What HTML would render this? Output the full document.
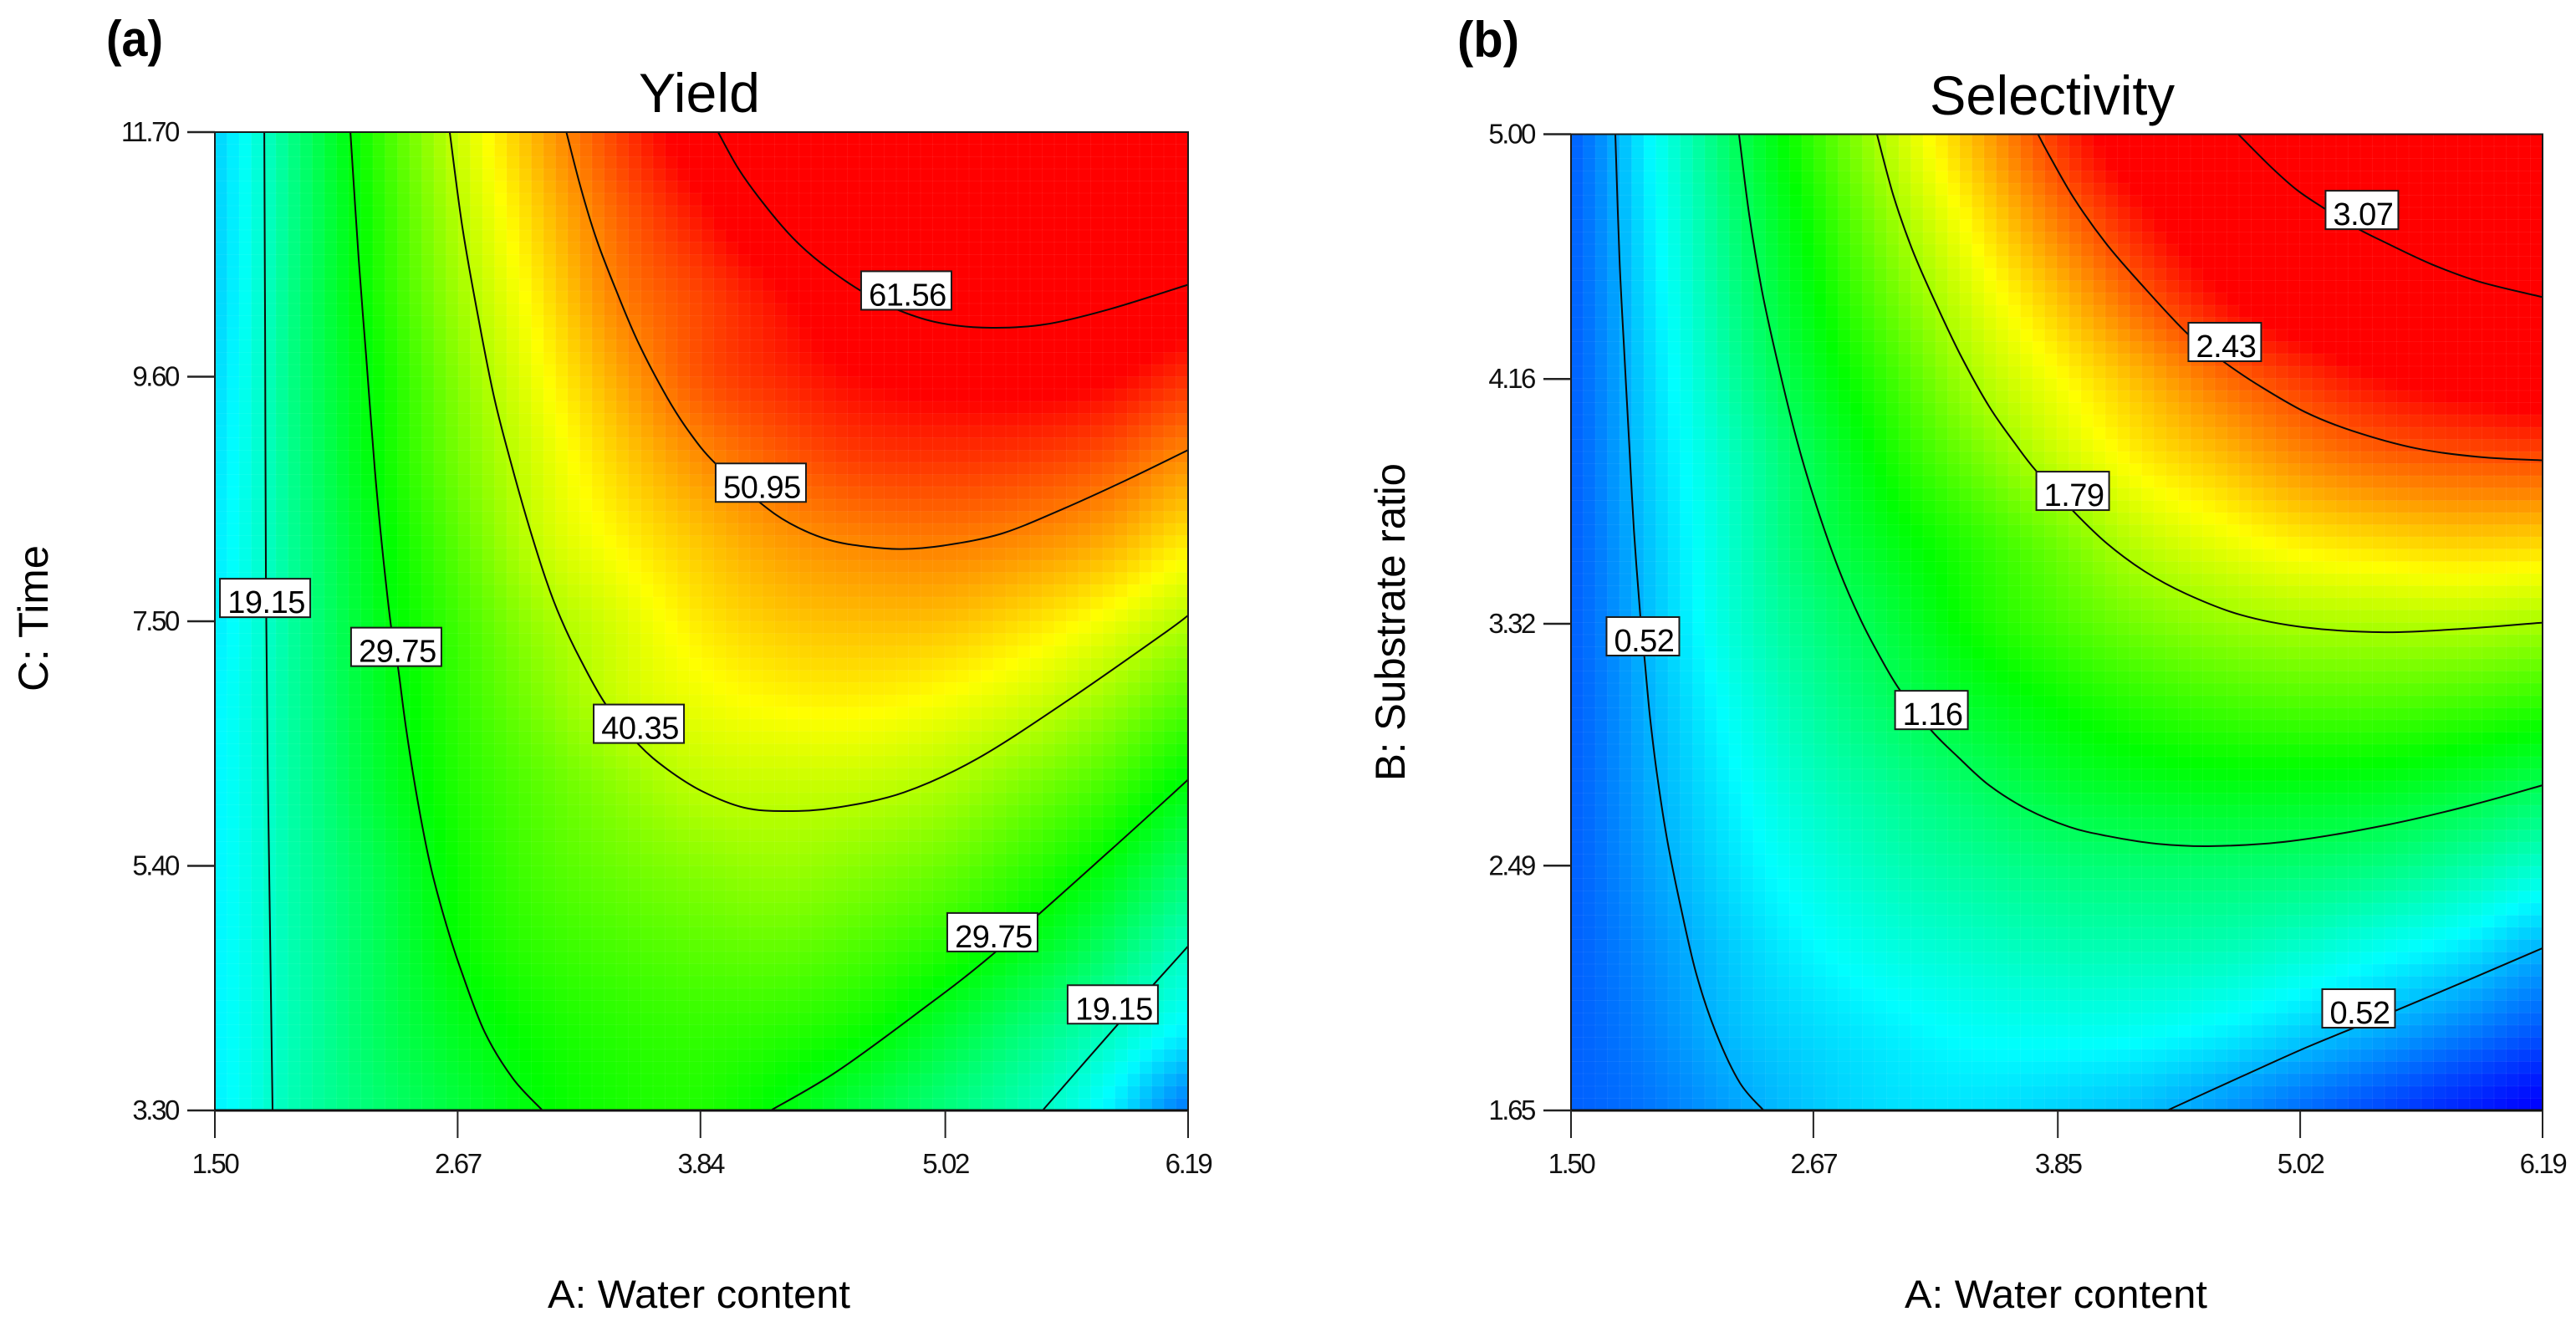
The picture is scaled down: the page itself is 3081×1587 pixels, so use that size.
<!DOCTYPE html>
<html lang="en">
<head>
<meta charset="utf-8">
<title>Yield and Selectivity contour plots</title>
<style>
html,body{margin:0;padding:0;background:#fff;}
body{width:3081px;height:1587px;overflow:hidden;}
svg{display:block;font-family:"Liberation Sans",Arial,sans-serif;}
</style>
</head>
<body>
<svg id="figure" xmlns="http://www.w3.org/2000/svg" width="3081" height="1587" viewBox="0 0 3081 1587">
  <rect width="3081" height="1587" fill="#fff"/>
  <text x="127" y="67" font-size="60" font-weight="bold" textLength="68" lengthAdjust="spacingAndGlyphs">(a)</text>
  <text x="1743" y="68" font-size="60" font-weight="bold" textLength="74" lengthAdjust="spacingAndGlyphs">(b)</text>
  <text x="764" y="134" font-size="66" textLength="145" lengthAdjust="spacingAndGlyphs">Yield</text>
  <text x="2308" y="137" font-size="66" textLength="293" lengthAdjust="spacingAndGlyphs">Selectivity</text>
  <text x="655" y="1564" font-size="47" textLength="362" lengthAdjust="spacingAndGlyphs">A: Water content</text>
  <text x="2278" y="1564" font-size="47" textLength="362" lengthAdjust="spacingAndGlyphs">A: Water content</text>
  <text transform="translate(57 827) rotate(-90)" font-size="50" textLength="175" lengthAdjust="spacingAndGlyphs">C: Time</text>
  <text transform="translate(1680 934) rotate(-90)" font-size="50" textLength="380" lengthAdjust="spacingAndGlyphs">B: Substrate ratio</text>
  <g id="panel-a"></g>
  <g id="panel-b"></g>
</svg>
<script>
/* ---------- Shared axis data ---------- */
const waterGrid = [1.5,1.891,2.282,2.673,3.063,3.454,3.845,4.236,4.627,5.018,5.408,5.799,6.19];

/* ---------- Panel (a) Yield ---------- */
const yieldXTicks = [1.50,2.67,3.84,5.02,6.19];
const yieldXTickLabels = ["1.50","2.67","3.84","5.02","6.19"];
const yieldYTicks = [3.30,5.40,7.50,9.60,11.70];
const yieldYTickLabels = ["3.30","5.40","7.50","9.60","11.70"];
const yieldTimeGrid = [11.7,11.0,10.3,9.6,8.9,8.2,7.5,6.8,6.1,5.4,4.7,4.0,3.3];
const yieldSurface = [
 [13,23,32.6,41.2,48.5,54.7,60.3,65,68,70,71,71,70],
 [13,22.8,31.8,40,46.8,52.7,57.2,61.8,64,65.5,66,66,65],
 [13,23,31.4,38.8,45.1,51.1,54.4,57.8,61.1,62.8,63.3,62.6,60.5],
 [13.5,23,30.3,37.4,43.5,48.9,53.5,56,58,59,59.2,58.3,55.6],
 [14,22.5,30,36.4,42,46.6,50.3,53,54.8,55.2,54.8,53.3,50.3],
 [14.5,22,29,35,41,44.5,47.3,49.6,50.8,51.2,50.4,48.6,45.3],
 [14.5,21.5,28.4,33.5,38.6,42.1,45.2,47,47.6,47.4,45.8,43.3,40],
 [15,21.4,27.7,32.6,36.9,41,43.1,44.3,44.5,43.5,41.6,38.5,34.7],
 [15,21,27,31.7,35,38,40.5,41,40.8,39.5,36.9,33.8,29.5],
 [15,20.6,25.6,30.7,34,36,37.5,38.4,37.4,35.8,32.9,29.2,24.3],
 [15,20.2,25,30,32.6,34,35,35.4,34.1,31.9,28.6,24.3,19.2],
 [15,19.9,24.6,28.3,30.8,32.2,32.8,32.2,30.5,27,23.2,19.4,15],
 [14.8,20,23.6,26.7,29.7,31.2,31.6,29.3,26.1,23,19.8,15,8]
];
const yieldColorLevels = [1,15.5,30,44,58];

const yieldC19LeftA = [1.738,1.742,1.746,1.754,1.762,1.778];
const yieldC19LeftC = [11.70,9.96,7.81,6.37,5.34,3.30];
const yieldC29LeftA = [2.153,2.193,2.229,2.27,2.306,2.35,2.382,2.423,2.477,2.539,2.616,2.693,2.801,2.938,3.079];
const yieldC29LeftC = [11.70,10.61,9.78,8.82,8.14,7.44,7.11,6.56,5.96,5.40,4.89,4.47,3.97,3.57,3.30];
const yieldC40A = [2.632,2.693,2.769,2.846,2.924,3.003,3.095,3.168,3.265,3.386,3.543,3.68,3.849,4.05,4.252,4.494,4.82,5.174,5.61,6.077,6.19];
const yieldC40C = [11.70,10.88,10.11,9.42,8.88,8.38,7.86,7.52,7.16,6.78,6.44,6.23,6.04,5.90,5.87,5.90,6.03,6.32,6.82,7.40,7.55];
const yieldC50A = [3.194,3.265,3.341,3.434,3.541,3.68,3.788,3.909,4.119,4.272,4.457,4.643,4.812,5.011,5.287,5.581,5.89,6.19];
const yieldC50C = [11.70,11.21,10.77,10.34,9.89,9.42,9.12,8.86,8.53,8.34,8.20,8.14,8.12,8.15,8.25,8.46,8.71,8.97];
const yieldC61A = [3.925,4.025,4.147,4.286,4.425,4.61,4.796,4.997,5.243,5.505,5.813,6.19];
const yieldC61C = [11.70,11.38,11.08,10.79,10.57,10.34,10.17,10.06,10.02,10.05,10.18,10.39];
const yieldC29RightA = [4.179,4.494,4.896,5.255,5.807,6.19];
const yieldC29RightC = [3.30,3.63,4.15,4.65,5.52,6.14];
const yieldC19RightA = [5.489,5.847,6.19];
const yieldC19RightC = [3.30,4.03,4.71];

const yieldLabelText = ["61.56","50.95","19.15","29.75","40.35","29.75","19.15"];
const yieldLabelA = [4.832,4.131,1.742,2.374,3.543,5.247,5.827];
const yieldLabelC = [10.34,8.69,7.70,7.28,6.62,4.83,4.21];

/* ---------- Panel (b) Selectivity ---------- */
const selectivityXTicks = [1.50,2.67,3.85,5.02,6.19];
const selectivityXTickLabels = ["1.50","2.67","3.85","5.02","6.19"];
const selectivityYTicks = [1.65,2.49,3.32,4.16,5.00];
const selectivityYTickLabels = ["1.65","2.49","3.32","4.16","5.00"];
const selectivityRatioGrid = [5,4.72,4.44,4.16,3.88,3.60,3.325,3.05,2.77,2.49,2.21,1.93,1.65];
const selectivitySurface = [
 [.30,.71,1.13,1.50,1.86,2.18,2.49,2.75,3.01,3.25,3.42,3.55,3.65],
 [.30,.68,1.07,1.42,1.76,2.05,2.33,2.57,2.78,2.97,3.16,3.32,3.42],
 [.30,.65,1.02,1.35,1.65,1.92,2.15,2.39,2.60,2.77,2.90,3.00,3.07],
 [.30,.62,.96,1.27,1.53,1.80,1.99,2.17,2.35,2.49,2.61,2.69,2.75],
 [.30,.60,.88,1.17,1.43,1.65,1.86,2.03,2.15,2.28,2.37,2.41,2.43],
 [.30,.57,.85,1.13,1.32,1.48,1.65,1.84,1.95,2.04,2.09,2.12,2.11],
 [.30,.55,.82,1.04,1.22,1.41,1.54,1.66,1.74,1.79,1.81,1.82,1.79],
 [.30,.52,.75,.96,1.13,1.27,1.38,1.47,1.53,1.56,1.56,1.53,1.48],
 [.30,.50,.69,.87,1.00,1.12,1.23,1.29,1.32,1.32,1.30,1.24,1.16],
 [.30,.47,.64,.78,.90,.98,1.05,1.08,1.09,1.08,1.04,.95,.84],
 [.30,.43,.58,.70,.79,.85,.90,.91,.90,.84,.75,.66,.52],
 [.30,.40,.54,.62,.68,.73,.75,.74,.69,.60,.50,.39,.28],
 [.30,.36,.47,.57,.63,.64,.60,.55,.45,.34,.24,.14,.05]
];
const selectivityColorLevels = [0.05,0.71,1.37,2.0,2.62];

const selectivityC052LeftA = [1.714,1.734,1.758,1.783,1.804,1.835,1.854,1.882,1.92,1.967,2.029,2.105,2.198,2.315,2.43];
const selectivityC052LeftB = [5.00,4.571,4.241,3.911,3.638,3.343,3.208,2.996,2.778,2.568,2.35,2.118,1.92,1.745,1.65];
const selectivityC116A = [2.311,2.36,2.422,2.5,2.592,2.685,2.793,2.896,2.993,3.09,3.238,3.365,3.518,3.704,3.906,4.087,4.329,4.596,4.971,5.447,5.843,6.19];
const selectivityC116B = [5.00,4.724,4.462,4.209,3.945,3.724,3.506,3.337,3.205,3.09,2.955,2.865,2.766,2.683,2.623,2.592,2.565,2.557,2.574,2.631,2.697,2.766];
const selectivityC179A = [2.977,3.056,3.148,3.256,3.381,3.518,3.643,3.746,3.92,4.083,4.269,4.469,4.731,5.04,5.427,5.812,6.19];
const selectivityC179B = [5.00,4.79,4.603,4.427,4.241,4.066,3.939,3.844,3.71,3.598,3.5,3.423,3.351,3.308,3.291,3.303,3.324];
const selectivityC243A = [3.754,3.805,3.928,4.083,4.269,4.481,4.647,4.809,5.04,5.272,5.58,5.89,6.19];
const selectivityC243B = [5.00,4.932,4.78,4.625,4.472,4.312,4.221,4.143,4.048,3.982,3.922,3.892,3.881];
const selectivityC307A = [4.721,4.886,5.009,5.142,5.295,5.426,5.657,5.889,6.19];
const selectivityC307B = [5.00,4.883,4.806,4.743,4.677,4.63,4.553,4.493,4.441];
const selectivityC052RightA = [4.378,4.733,5.056,5.419,5.823,6.19];
const selectivityC052RightB = [1.65,1.765,1.868,1.974,2.095,2.207];

const selectivityLabelText = ["3.07","2.43","1.79","0.52","1.16","0.52"];
const selectivityLabelA = [5.318,4.656,3.922,1.847,3.24,5.302];
const selectivityLabelB = [4.74,4.287,3.776,3.277,3.024,2.0];

/* ---------- Rendering ---------- */
const SVG_NS = "http://www.w3.org/2000/svg";
const colorStops = [[0,0,255],[0,255,255],[0,255,0],[255,255,0],[255,0,0]];

function makeEl(tag, attrs, parent){
  const e = document.createElementNS(SVG_NS, tag);
  for (const k in attrs) e.setAttribute(k, attrs[k]);
  parent.appendChild(e);
  return e;
}
function surfaceColor(v, levels){
  if (v <= levels[0]) return "rgb(0,0,255)";
  for (let i = 0; i < levels.length - 1; i++){
    if (v <= levels[i+1]){
      const t = (v - levels[i]) / (levels[i+1] - levels[i]);
      const a = colorStops[i], b = colorStops[i+1];
      return "rgb(" + Math.round(a[0]+(b[0]-a[0])*t) + "," + Math.round(a[1]+(b[1]-a[1])*t) + "," + Math.round(a[2]+(b[2]-a[2])*t) + ")";
    }
  }
  return "rgb(255,0,0)";
}
function cubic(p0,p1,p2,p3,t){
  return p1 + 0.5*t*(p2-p0 + t*(2*p0-5*p1+4*p2-p3 + t*(3*(p1-p2)+p3-p0)));
}
function sampleSurface(grid, gx, gy){
  const rows = grid.length, cols = grid[0].length;
  const i = Math.min(Math.floor(gy), rows-2), j = Math.min(Math.floor(gx), cols-2);
  const ty = gy-i, tx = gx-j;
  const line = [];
  for (let r = i-1; r <= i+2; r++){
    const row = grid[Math.max(0, Math.min(rows-1, r))];
    line.push(cubic(row[Math.max(0,j-1)], row[j], row[j+1], row[Math.min(cols-1,j+2)], tx));
  }
  return cubic(line[0], line[1], line[2], line[3], ty);
}
function smoothPath(px, py){
  let d = "M" + px[0].toFixed(1) + " " + py[0].toFixed(1);
  const n = px.length;
  for (let i = 0; i < n-1; i++){
    const a = Math.max(0,i-1), b = Math.min(n-1,i+2);
    const c1x = px[i] + (px[i+1]-px[a])/6, c1y = py[i] + (py[i+1]-py[a])/6;
    const c2x = px[i+1] - (px[b]-px[i])/6, c2y = py[i+1] - (py[b]-py[i])/6;
    d += "C" + c1x.toFixed(1) + " " + c1y.toFixed(1) + " " + c2x.toFixed(1) + " " + c2y.toFixed(1) + " " + px[i+1].toFixed(1) + " " + py[i+1].toFixed(1);
  }
  return d;
}

function drawPanel(cfg){
  const host = document.getElementById(cfg.host);
  const xScale = v => cfg.left + (v - cfg.xMin) / (cfg.xMax - cfg.xMin) * (cfg.right - cfg.left);
  const yScale = v => cfg.bottom - (v - cfg.yMin) / (cfg.yMax - cfg.yMin) * (cfg.bottom - cfg.top);
  const nCells = 80;
  const w = (cfg.right - cfg.left) / nCells, h = (cfg.bottom - cfg.top) / nCells;
  const nR = cfg.surface.length - 1, nC = cfg.surface[0].length - 1;

  const heat = makeEl("g", {"shape-rendering":"crispEdges"}, host);
  
  
  for (let r = 0; r < nCells; r++){
    for (let c = 0; c < nCells; c++){
      const v = sampleSurface(cfg.surface, (c+0.5)/nCells*nC, (r+0.5)/nCells*nR);
      const cell = makeEl("rect", {x:(cfg.left+c*w).toFixed(2), y:(cfg.top+r*h).toFixed(2), width:(w+0.6).toFixed(2), height:(h+0.6).toFixed(2), fill:surfaceColor(v, cfg.levels), stroke:"#fff", "stroke-opacity":"0.05", "stroke-width":"1"}, heat);
      
      
    }
  }

  for (const line of cfg.contours){
    const path = makeEl("path", {d:smoothPath(line.a.map(xScale), line.b.map(yScale)), fill:"none", stroke:"#0a0a0a", "stroke-width":"2"}, host);
    
    
  }

  const frame = makeEl("path", {d:"M"+cfg.left+" "+cfg.top+"H"+cfg.right+"V"+cfg.bottom+"H"+cfg.left+"Z", fill:"none", stroke:"#1a1a1a", "stroke-width":"2"}, host);
  
  
  const base = makeEl("line", {x1:cfg.left, x2:cfg.right, y1:cfg.bottom, y2:cfg.bottom, stroke:"#111", "stroke-width":"3"}, host);
  
  

  cfg.xTicks.forEach((t,i)=>{
    const x = xScale(t);
    const tick = makeEl("line", {x1:x, x2:x, y1:cfg.bottom, y2:cfg.bottom+33, stroke:"#222", "stroke-width":"2"}, host);
    
    
    const label = makeEl("text", {x:x, y:1403, "font-size":"33", "letter-spacing":"-2.4", "text-anchor":"middle", fill:"#111"}, host);
    
    
    label.textContent = cfg.xTickLabels[i];
  });
  cfg.yTicks.forEach((t,i)=>{
    const y = yScale(t);
    const tick = makeEl("line", {x1:cfg.left-33, x2:cfg.left, y1:y, y2:y, stroke:"#222", "stroke-width":"2.4"}, host);
    
    
    const label = makeEl("text", {x:cfg.left-44, y:y+11, "font-size":"33", "letter-spacing":"-2.4", "text-anchor":"end", fill:"#111"}, host);
    
    
    label.textContent = cfg.yTickLabels[i];
  });

  cfg.labelText.forEach((txt,i)=>{
    const x = xScale(cfg.labelA[i]), y = yScale(cfg.labelB[i]);
    const bw = cfg.labelWidth, bh = 46;
    const box = makeEl("rect", {x:x-bw/2, y:y-bh/2, width:bw, height:bh, fill:"#fff", stroke:"#1a1a1a", "stroke-width":"2"}, host);
    
    
    const label = makeEl("text", {x:x+1.5, y:y+18, "font-size":"38", "letter-spacing":"-0.5", "text-anchor":"middle", fill:"#000"}, host);
    
    
    label.textContent = txt;
  });
}

drawPanel({
  host:"panel-a", left:257, right:1421, top:158, bottom:1328,
  xMin:1.5, xMax:6.19, yMin:3.3, yMax:11.7,
  surface:yieldSurface, levels:yieldColorLevels,
  xTicks:yieldXTicks, xTickLabels:yieldXTickLabels, yTicks:yieldYTicks, yTickLabels:yieldYTickLabels,
  contours:[
    {a:yieldC19LeftA,b:yieldC19LeftC},{a:yieldC29LeftA,b:yieldC29LeftC},{a:yieldC40A,b:yieldC40C},
    {a:yieldC50A,b:yieldC50C},{a:yieldC61A,b:yieldC61C},{a:yieldC29RightA,b:yieldC29RightC},{a:yieldC19RightA,b:yieldC19RightC}
  ],
  labelText:yieldLabelText, labelA:yieldLabelA, labelB:yieldLabelC, labelWidth:108
});
drawPanel({
  host:"panel-b", left:1879, right:3041, top:160.5, bottom:1328,
  xMin:1.5, xMax:6.19, yMin:1.65, yMax:5.0,
  surface:selectivitySurface, levels:selectivityColorLevels,
  xTicks:selectivityXTicks, xTickLabels:selectivityXTickLabels, yTicks:selectivityYTicks, yTickLabels:selectivityYTickLabels,
  contours:[
    {a:selectivityC052LeftA,b:selectivityC052LeftB},{a:selectivityC116A,b:selectivityC116B},{a:selectivityC179A,b:selectivityC179B},
    {a:selectivityC243A,b:selectivityC243B},{a:selectivityC307A,b:selectivityC307B},{a:selectivityC052RightA,b:selectivityC052RightB}
  ],
  labelText:selectivityLabelText, labelA:selectivityLabelA, labelB:selectivityLabelB, labelWidth:87
});
</script>
</body>
</html>
